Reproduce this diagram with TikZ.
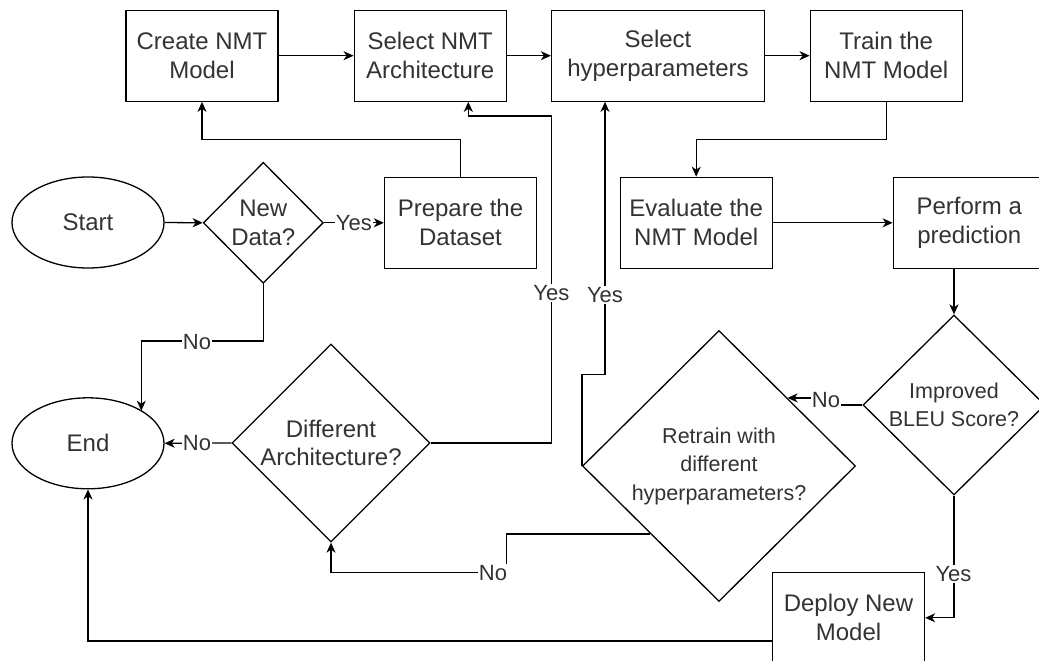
\documentclass[tikz,border=0pt]{standalone}
\usepackage{fontspec}
\setmainfont{Liberation Sans}
\usetikzlibrary{shapes.geometric,arrows.meta}

\tikzset{
  base/.style={draw=black, line width=1.3pt, text=black!80, align=center, inner sep=0pt},
  procbox/.style={base, rectangle, minimum width=152pt, minimum height=91pt,
    font=\fontsize{24}{28.8}\selectfont},
  terminal/.style={base, ellipse, minimum width=152pt, minimum height=91pt,
    font=\fontsize{24}{28.8}\selectfont},
  decision/.style={base, diamond},
  dtext/.style={text=black!80, align=center, inner sep=0pt},
  flow/.style={draw=black, line width=1.3pt,
    -{Stealth[length=10pt, width=9pt, inset=3pt]}},
  plain/.style={draw=black, line width=1.3pt},
  lbl/.style={fill=white, text=black!80, inner sep=1pt,
    font=\fontsize{22}{24}\selectfont},
}

\begin{document}
\begin{tikzpicture}[x=1pt, y=-1pt]
  \useasboundingbox (0,0) rectangle (1039,661);
  \clip (0,0) rectangle (1039,661);
  \fill[white] (0,0) rectangle (1039,661);

  % top row of process steps
  \node[procbox] (create) at (202,55.7) {Create NMT\\Model};
  \node[procbox] (arch) at (430.2,55.7) {Select NMT\\Architecture};
  \node[procbox, minimum width=213pt] (hyper) at (658,55.7) {Select\\hyperparameters};
  \node[procbox] (train) at (886.2,55.7) {Train the\\NMT Model};

  % second row
  \node[terminal] (start) at (88,222.5) {Start};
  \node[decision, minimum width=120pt, minimum height=121pt] (newdata) at (263.3,222.8) {};
  \node[dtext, font=\fontsize{24}{28.8}\selectfont] (newdatatxt) at (newdata.center) {New\\Data?};
  \node[procbox] (prepare) at (460.5,222.8) {Prepare the\\Dataset};
  \node[procbox] (evaluate) at (696.2,222.8) {Evaluate the\\NMT Model};
  \node[procbox] (perform) at (969.3,222.8) {Perform a\\prediction};

  % lower part: decisions and end
  \node[terminal] (end) at (88,443.3) {End};
  \node[decision, minimum width=198pt, minimum height=198pt] (different) at (331,443) {};
  \node[dtext, font=\fontsize{24}{28.8}\selectfont] (differenttxt) at (different.center) {Different\\Architecture?};
  \node[decision, minimum width=273pt, minimum height=271pt] (retrain) at (719,466) {};
  \node[dtext, font=\fontsize{21.5}{28.5}\selectfont] (retraintxt) at (retrain.center) {Retrain with\\different\\hyperparameters?};
  \node[decision, minimum width=182pt, minimum height=180pt] (improved) at (954,405) {};
  \node[dtext, font=\fontsize{21.5}{27.5}\selectfont] (improvedtxt) at (improved.center) {Improved\\BLEU Score?};
  \node[procbox] (deploy) at (848.5,617.8) {Deploy New\\Model};

  % bend points
  \coordinate (rowgap) at (0,139.3);
  \coordinate (nd1) at (141.3,341);
  \coordinate (ya) at (551.3,116);
  \coordinate (xa) at (468.3,0);
  \coordinate (yb) at (605,374.3);
  \coordinate (nb) at (835,405);
  \coordinate (nr) at (506.7,572.3);
  \coordinate (dl) at (0,641);

  % main flow
  \draw[flow] (start.east) -- (newdata.west);
  \draw[flow] (newdata.east) -- (prepare.west);
  \draw[flow] (prepare.north) |- (create.south |- rowgap) -- (create.south);
  \draw[flow] (create.east) -- (arch.west);
  \draw[flow] (arch.east) -- (hyper.west);
  \draw[flow] (hyper.east) -- (train.west);
  \draw[flow] (train.south) |- (evaluate.north |- rowgap) -- (evaluate.north);
  \draw[flow] (evaluate.east) -- (perform.west);
  \draw[flow] (perform.south -| improved.north) -- (improved.north);

  % decision branches
  \draw[flow] (newdata.south) |- (nd1) -- (nd1 |- end.31.4);
  \draw[flow] (different.west) -- (end.east);
  \draw[flow] (different.east) -| (ya) -| (arch.south -| xa);
  \draw[flow] (retrain.west) |- (yb) -- (hyper.south -| yb);
  \draw[flow] (improved.west) -- (nb) |- (retrain.north east);
  \draw[flow] (retrain.south west) -| (nr) -| (different.south);
  \draw[flow] (improved.south) |- (deploy.east);
  \draw[flow] (deploy.west |- dl) -| (end.south);

  % branch labels
  \node[lbl] (lyes0) at (353.8,222.8) {Yes};
  \node[lbl] (lno0) at (197,342) {No};
  \node[lbl] (lno1) at (197,443.3) {No};
  \node[lbl] (lyes1) at (551.3,293) {Yes};
  \node[lbl] (lyes2) at (605,295) {Yes};
  \node[lbl] (lno2) at (826,400) {No};
  \node[lbl] (lno3) at (493,573) {No};
  \node[lbl] (lyes3) at (953.5,574) {Yes};
\end{tikzpicture}
\end{document}
